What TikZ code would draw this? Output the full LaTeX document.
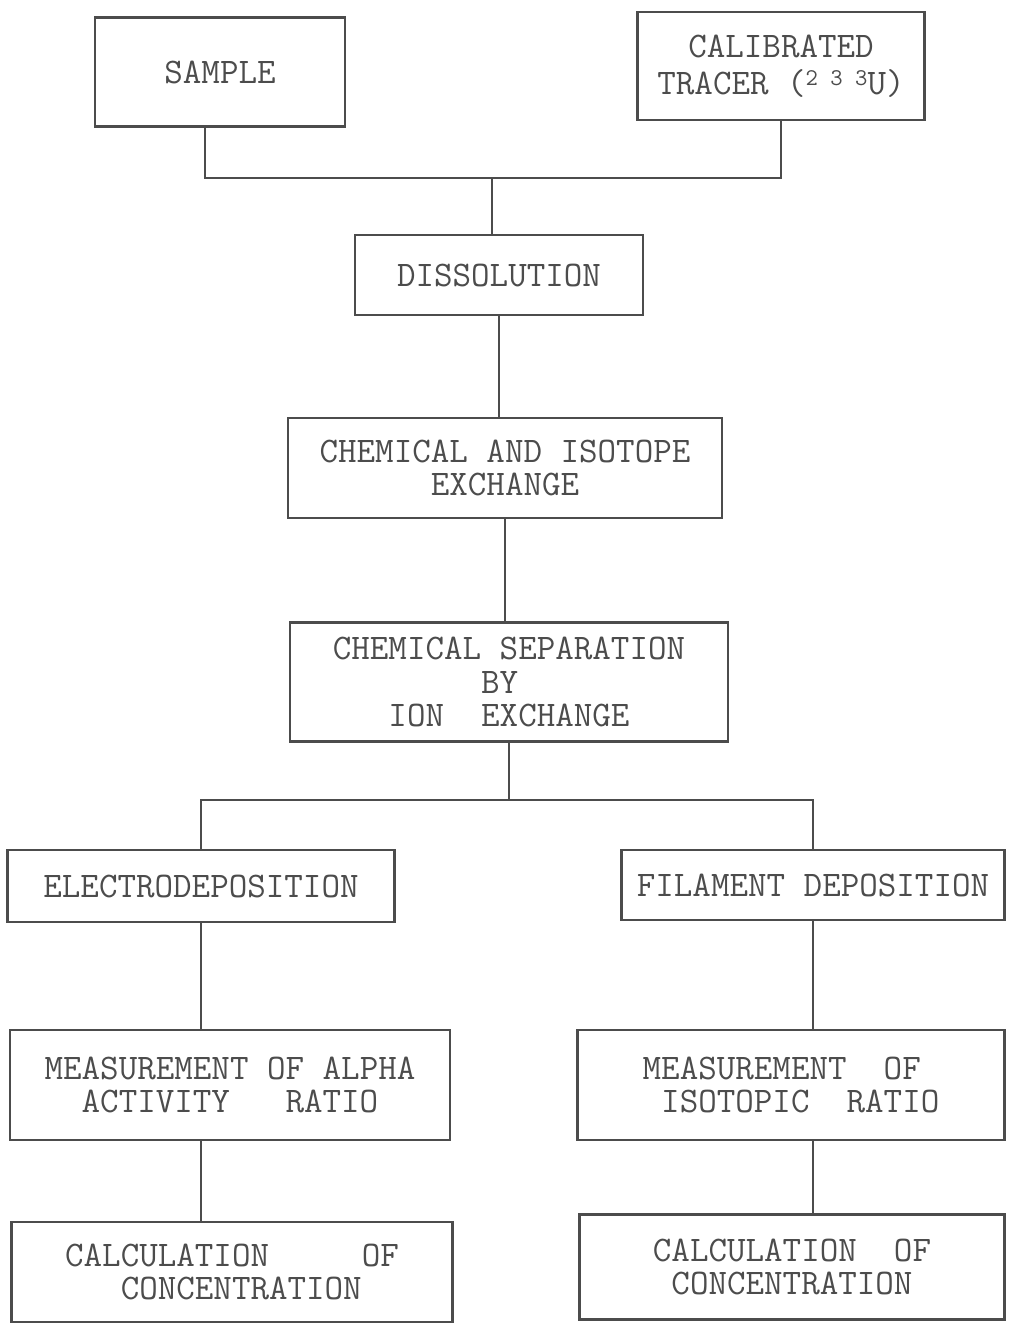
\documentclass[tikz,border=0pt]{standalone}
\usepackage{fontspec}
\usetikzlibrary{positioning}
\definecolor{ink}{gray}{0.3}
\definecolor{type}{gray}{0.3}

\begin{document}
\begin{tikzpicture}[x=0.5pt,y=-0.5pt,
box/.style={draw=ink,line width=1.1pt,text=type,align=center,inner sep=0pt,
font=\ttfamily\fontsize{18}{16.6}\selectfont},
link/.style={draw=ink,line width=1.1pt}]
\useasboundingbox (0,0) rectangle (1011,1327);
\node[box,minimum width=125pt,minimum height=54.5pt] (sample) at (220,72) {SAMPLE};
\node[box,minimum width=143.5pt,minimum height=54pt,font=\ttfamily\fontsize{18}{18.5}\selectfont] (tracer) at (781,66) {CALIBRATED\\TRACER (\raisebox{4.5pt}{\fontsize{12}{12}\selectfont 2 3 3}U)};
\node[box,minimum width=144pt,minimum height=40pt] (dis) at (499,275) {DISSOLUTION};
\node[box,minimum width=217pt,minimum height=50pt] (chem) at (505,468) {CHEMICAL AND ISOTOPE\\EXCHANGE};
\node[box,minimum width=219pt,minimum height=59.5pt] (sep) at (509,682) {CHEMICAL SEPARATION\\BY\phantom{X}\\ION~~EXCHANGE};
\node[box,minimum width=193.5pt,minimum height=36pt] (elec) at (201,886) {ELECTRODEPOSITION};
\node[box,minimum width=191.5pt,minimum height=35pt] (fil) at (813,885) {FILAMENT DEPOSITION};
\node[box,minimum width=220pt,minimum height=55pt] (alpha) at (230,1085) {MEASUREMENT OF ALPHA\\ACTIVITY~~~RATIO};
\node[box,minimum width=213.5pt,minimum height=55pt,align=left] (iso) at (791,1085) {MEASUREMENT~~OF\\~ISOTOPIC~~RATIO};
\node[box,minimum width=220.5pt,minimum height=50pt,align=left] (calcL) at (232,1272) {CALCULATION~~~~~OF\\~~~CONCENTRATION};
\node[box,minimum width=212.5pt,minimum height=52.5pt] (calcR) at (792,1267) {CALCULATION~~OF\\CONCENTRATION};
\coordinate (join) at (492,178);
\coordinate (split) at (509,800);
\draw[link] ([xshift=-7.5pt]sample.south) |- (join) -| (tracer.south);
\draw[link] (join) -- (join |- dis.north);
\draw[link] (dis.south) -- (dis.south |- chem.north);
\draw[link] (chem.south) -- (chem.south |- sep.north);
\draw[link] (sep.south) -- (split);
\draw[link] (elec.north) |- (split) -| (fil.north);
\draw[link] (elec.south) -- (elec.south |- alpha.north);
\draw[link] (fil.south) -- (fil.south |- iso.north);
\draw[link] (alpha.south -| elec.south) -- (elec.south |- calcL.north);
\draw[link] (iso.south -| fil.south) -- (fil.south |- calcR.north);
\end{tikzpicture}
\end{document}
